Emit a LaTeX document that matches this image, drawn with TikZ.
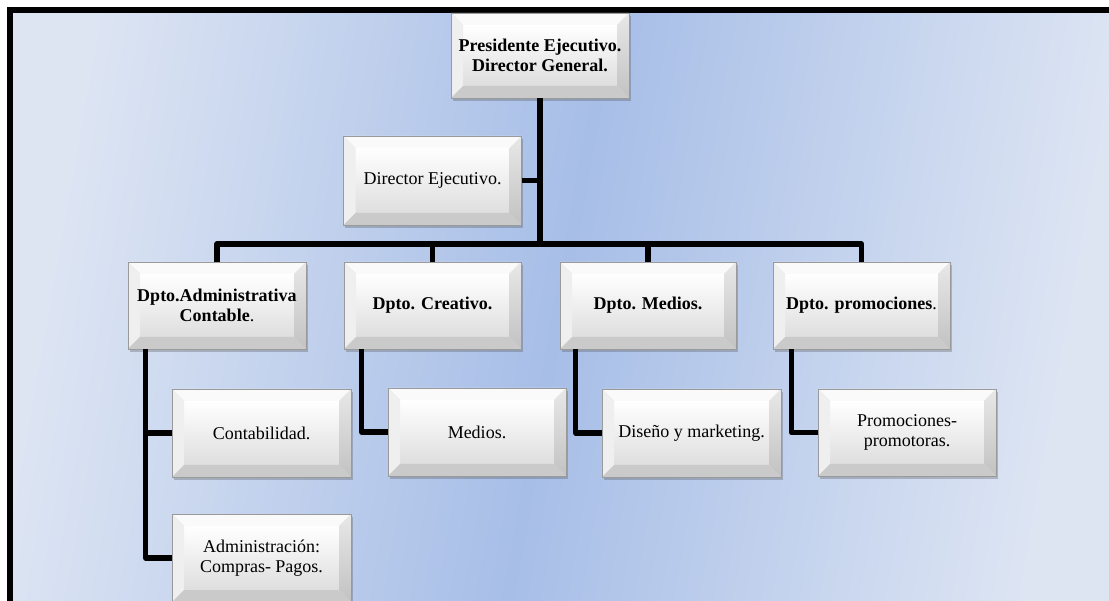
\documentclass[tikz,border=0pt]{standalone}
\usepackage{fontspec}
\setmainfont{Liberation Serif}
\usetikzlibrary{shadows,calc}
\definecolor{bgC}{HTML}{A7BEE7}
\definecolor{bgE}{HTML}{DDE5F3}
\definecolor{bevTop}{HTML}{FAFAFA}
\definecolor{bevLeft}{HTML}{EFEFEF}
\definecolor{bevRightA}{HTML}{E8E8E8}
\definecolor{bevRightB}{HTML}{C2C2C2}
\definecolor{bevBot}{HTML}{CACACA}
\definecolor{faceB}{HTML}{DEDEDE}
\definecolor{edgeC}{HTML}{9A9A9A}
\tikzset{
  bev/.style={minimum width=178pt, minimum height=87pt, inner sep=0pt,
    align=center, text=black, font=\fontsize{18}{19.5}\selectfont,
    draw=edgeC, line width=0.6pt, fill=faceB,
    drop shadow={shadow xshift=1.5pt, shadow yshift=-3pt, opacity=0.3, fill=black!70},
    path picture={
      \path (path picture bounding box.south west) coordinate (bsw)
            (path picture bounding box.south east) coordinate (bse)
            (path picture bounding box.north west) coordinate (bnw)
            (path picture bounding box.north east) coordinate (bne);
      \path ([shift={(12pt,12pt)}]bsw) coordinate (isw)
            ([shift={(-12pt,12pt)}]bse) coordinate (ise)
            ([shift={(12pt,-12pt)}]bnw) coordinate (inw)
            ([shift={(-12pt,-12pt)}]bne) coordinate (ine);
      \shade[top color=white, bottom color=faceB] (isw) rectangle (ine);
      \fill[bevTop] (bnw) -- (bne) -- (ine) -- (inw) -- cycle;
      \fill[bevLeft] (bnw) -- (inw) -- (isw) -- (bsw) -- cycle;
      \shade[top color=bevRightA, bottom color=bevRightB] (bne) -- (ine) -- (ise) -- (bse) -- cycle;
      \fill[bevBot] (bsw) -- (isw) -- (ise) -- (bse) -- cycle;
    }},
  conn/.style={draw=black, line width=5.5pt, line join=round}
}
\begin{document}
\begin{tikzpicture}[x=1pt,y=-1pt]
\path[use as bounding box, clip] (0,0) rectangle (1109,601);
\fill[white] (0,0) rectangle (1109,601);
\shade[left color=bgE, right color=bgE, middle color=bgC, shading angle=80] (10,10) rectangle (1109,601);
\draw[line width=6pt] (10,620) -- (10,10) -- (1130,10);

\node[bev, minimum height=85pt] (pres) at (540,55.5) {\bfseries Presidente Ejecutivo.\\\bfseries Director General.};
\node[bev, minimum height=89pt] (dir) at (432.5,180.5) {Director Ejecutivo.};

\node[bev] (d1) at (217,305.5) {\textbf{Dpto.Administrativa}\\\textbf{Contable}.};
\node[bev, minimum width=177pt] (d2) at (432.5,305.5) {\textbf{Dpto. Creativo.}};
\node[bev, minimum width=176pt] (d3) at (648,305.5) {\textbf{Dpto. Medios.}};
\node[bev, minimum width=177pt] (d4) at (861.5,305.5) {\textbf{Dpto. promociones}.};

\node[bev, minimum width=179pt, minimum height=88pt] (c1) at (261.5,433) {Contabilidad.};
\node[bev, minimum width=179pt, minimum height=88pt] (c2) at (261.5,558) {Administración:\\Compras- Pagos.};
\node[bev, minimum height=88pt] (c3) at (477,432) {Medios.};
\node[bev, minimum width=179pt, minimum height=88pt] (c4) at (691.5,433) {Diseño y marketing.};
\node[bev, minimum height=87pt] (c5) at (907,432.5) {Promociones-\\promotoras.};

\coordinate (bar) at (540,244);
\draw[conn] (pres.south) -- (bar);
\draw[conn] (dir.east) -- (dir.east -| pres.south);
\draw[conn] (d1.north) -- (d1.north |- bar) -- (d4.north |- bar) -- (d4.north);
\draw[conn] (d2.north) -- (d2.north |- bar);
\draw[conn] (d3.north) -- (d3.north |- bar);

\draw[conn] ([xshift=18pt]d1.south west) |- (c1.west);
\draw[conn] ([xshift=18pt]d1.south west) |- (c2.west);
\draw[conn] ([xshift=18pt]d2.south west) |- (c3.west);
\draw[conn] ([xshift=16pt]d3.south west) |- (c4.west);
\draw[conn] ([xshift=19pt]d4.south west) |- (c5.west);
\end{tikzpicture}
\end{document}
